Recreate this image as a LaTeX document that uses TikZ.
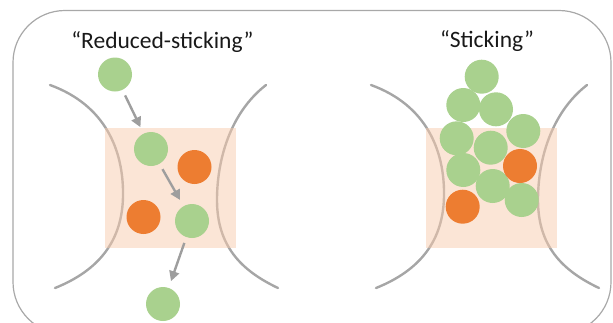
\documentclass[tikz,border=0pt]{standalone}
\usepackage{fontspec}
\setmainfont{Carlito}
\usetikzlibrary{arrows.meta}
\definecolor{ballgreen}{HTML}{A9D18E}
\definecolor{ballorange}{HTML}{ED7D31}
\definecolor{peach}{HTML}{F8CBAD}
\definecolor{wallgray}{HTML}{A6A6A6}
\definecolor{flowgray}{HTML}{9E9E9E}
\definecolor{framegray}{HTML}{A8A8A8}
\tikzset{
  ball/.style={circle, minimum size=34pt, inner sep=0pt, draw=none},
  green ball/.style={ball, fill=ballgreen},
  orange ball/.style={ball, fill=ballorange},
  wall/.style={draw=wallgray, line width=2.4pt, line cap=round},
  zone/.style={fill=peach, fill opacity=0.5},
  flow/.style={draw=flowgray, line width=2.4pt,
    -{Triangle[length=10pt,width=10pt]}, shorten <=6pt, shorten >=7pt},
  frame/.style={draw=framegray, line width=1.2pt, rounded corners=52pt},
  title/.style={font=\fontsize{23.5}{28}\selectfont, text=black!90,
    anchor=base, inner sep=0pt}
}
\begin{document}
\begin{tikzpicture}[x=1pt, y=-1pt]
  \useasboundingbox (0,0) rectangle (613,322);
  \clip (0,0) rectangle (613,322);
  \draw[frame] (13,10.5) rectangle (611,334);

  % channel walls and constriction zone, drawn once per panel
  \foreach \dx in {0,321} {
    \begin{scope}[xshift=\dx pt]
      \draw[wall] (50,85) .. controls (105,105) and (124,150) .. (123,197)
                          .. controls (122,240) and (100,270) .. (55,288);
      \draw[wall] (266,85) .. controls (230,113) and (217,160) .. (217,200)
                           .. controls (217,245) and (240,270) .. (278,288);
      \fill[zone] (105,128) rectangle (236,248);
    \end{scope}
  }

  % panel titles
  \node[title] (t1) at (162.4,48.3) {“Reduced-sticking”};
  \node[title] (t2) at (487,47.5) {“Sticking”};

  % left panel: particles passing through
  \node[green ball]  (g1) at (115,74.5) {};
  \node[green ball]  (g2) at (151,149) {};
  \node[orange ball] (o1) at (194.5,167) {};
  \node[orange ball] (o2) at (143.5,217) {};
  \node[green ball]  (g3) at (192,221) {};
  \node[green ball]  (g4) at (163,304) {};
  \draw[flow] (g1) -- (g2);
  \draw[flow] (g2) -- (g3);
  \draw[flow] (g3) -- (g4);

  % right panel: particles piling up
  \node[green ball] (s1)  at (481.7,76.7) {};
  \node[green ball] (s2)  at (463.3,105) {};
  \node[green ball] (s3)  at (496,109.3) {};
  \node[green ball] (s4)  at (456.7,138.3) {};
  \node[green ball] (s5)  at (523.3,131) {};
  \node[green ball] (s6)  at (490.7,147.7) {};
  \node[green ball] (s7)  at (463.3,170) {};
  \node[green ball] (s8)  at (492.7,186) {};
  \node[green ball] (s9)  at (521.7,200) {};
  \node[orange ball] (r1) at (520,166) {};
  \node[orange ball] (r2) at (462.7,206.7) {};
\end{tikzpicture}
\end{document}
